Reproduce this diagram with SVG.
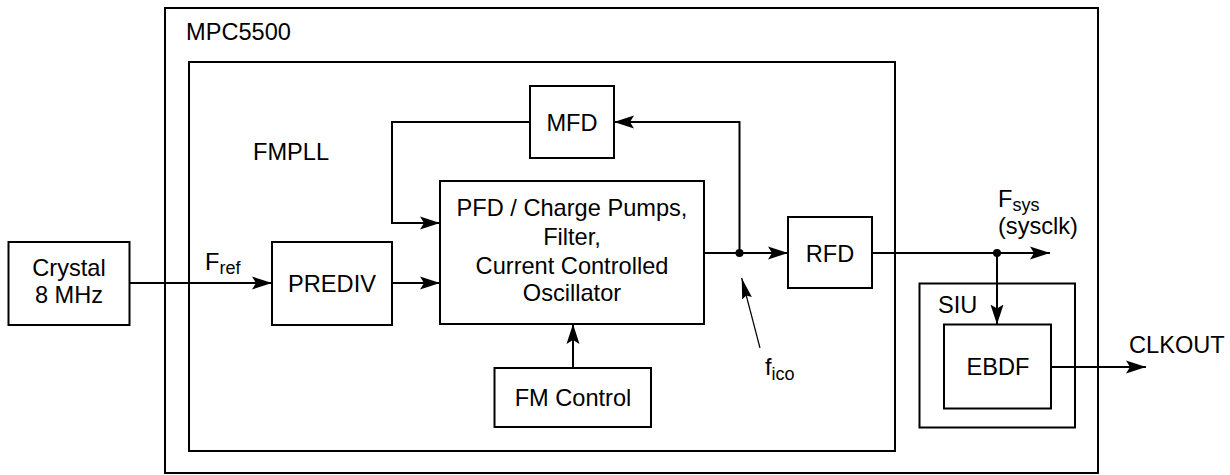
<svg xmlns="http://www.w3.org/2000/svg" width="1230" height="475" viewBox="0 0 1230 475">
<style>
  .box { fill: none; stroke: #000; stroke-width: 2; }
  .wire { fill: none; stroke: #000; stroke-width: 2; }
  .lead { fill: none; stroke: #000; stroke-width: 1.2; }
  text { font-family: "Liberation Sans", Arial, Helvetica, sans-serif; font-size: 23.6px; fill: #000; }
  .c { text-anchor: middle; }
  .sub { font-size: 18px; }
</style>
<defs>
  <marker id="arr" markerUnits="userSpaceOnUse" markerWidth="22" markerHeight="14" refX="20" refY="7" orient="auto">
    <path d="M0,0.5 L20,7 L0,13.5 L4,7 z" fill="#000"/>
  </marker>
  <marker id="arrThin" markerUnits="userSpaceOnUse" markerWidth="22" markerHeight="12" refX="21" refY="6" orient="auto">
    <path d="M0,1 L21,6 L0,11 L3,6 z" fill="#000"/>
  </marker>
</defs>
<rect width="1230" height="475" fill="#fff"/>

<g id="mpc5500">
  <rect class="box" x="165" y="8" width="933" height="465"/>
  <text x="186" y="40">MPC5500</text>
</g>
<g id="fmpll">
  <rect class="box" x="189" y="62" width="706" height="389"/>
  <text x="253" y="160">FMPLL</text>
</g>
<g id="crystal">
  <rect class="box" x="8.5" y="242" width="121" height="83"/>
  <text class="c" x="69" y="276">Crystal</text>
  <text class="c" x="69" y="303">8 MHz</text>
</g>
<g id="prediv">
  <rect class="box" x="272" y="242" width="120" height="83"/>
  <text class="c" x="332" y="292">PREDIV</text>
</g>
<g id="pfd">
  <rect class="box" x="440" y="181" width="264" height="143"/>
  <text class="c" x="572" y="216">PFD / Charge Pumps,</text>
  <text class="c" x="572" y="245">Filter,</text>
  <text class="c" x="572" y="274">Current Controlled</text>
  <text class="c" x="572" y="301">Oscillator</text>
</g>
<g id="mfd">
  <rect class="box" x="530" y="86" width="84" height="72"/>
  <text class="c" x="572" y="131">MFD</text>
</g>
<g id="rfd">
  <rect class="box" x="788" y="217" width="84" height="71"/>
  <text class="c" x="830" y="262">RFD</text>
</g>
<g id="fmcontrol">
  <rect class="box" x="494.5" y="368" width="156.5" height="59"/>
  <text class="c" x="573" y="406">FM Control</text>
</g>
<g id="siu">
  <rect class="box" x="919.5" y="283.5" width="155.5" height="144"/>
  <text x="938" y="313">SIU</text>
</g>
<g id="ebdf">
  <rect class="box" x="944" y="324.5" width="107" height="84"/>
  <text class="c" x="998" y="375">EBDF</text>
</g>

<g id="connectors">
  <path class="wire" d="M129.5,283 H272" marker-end="url(#arr)"/>
  <path class="wire" d="M392,283 H440" marker-end="url(#arr)"/>
  <path class="wire" d="M530,122 H392 V223 H440" marker-end="url(#arr)"/>
  <path class="wire" d="M704,253 H788" marker-end="url(#arr)"/>
  <path class="wire" d="M739.5,253 V122 H614" marker-end="url(#arr)"/>
  <path class="wire" d="M573,368 V324" marker-end="url(#arr)"/>
  <path class="wire" d="M872,253 H1050" marker-end="url(#arr)"/>
  <path class="wire" d="M997,253 V324.5" marker-end="url(#arr)"/>
  <path class="wire" d="M1051,367 H1146" marker-end="url(#arr)"/>
  <path class="lead" d="M760,348 L741.7,278" marker-end="url(#arrThin)"/>
  <circle cx="739.5" cy="253" r="4" fill="#000"/>
  <circle cx="997" cy="253" r="4" fill="#000"/>
</g>

<g id="labels">
  <text x="205" y="270">F<tspan class="sub" dy="4">ref</tspan></text>
  <text x="998" y="207">F<tspan class="sub" dy="4">sys</tspan></text>
  <text x="998" y="234">(sysclk)</text>
  <text x="765" y="375">f<tspan class="sub" dy="5">ico</tspan></text>
  <text x="1129" y="353">CLKOUT</text>
</g>
</svg>
